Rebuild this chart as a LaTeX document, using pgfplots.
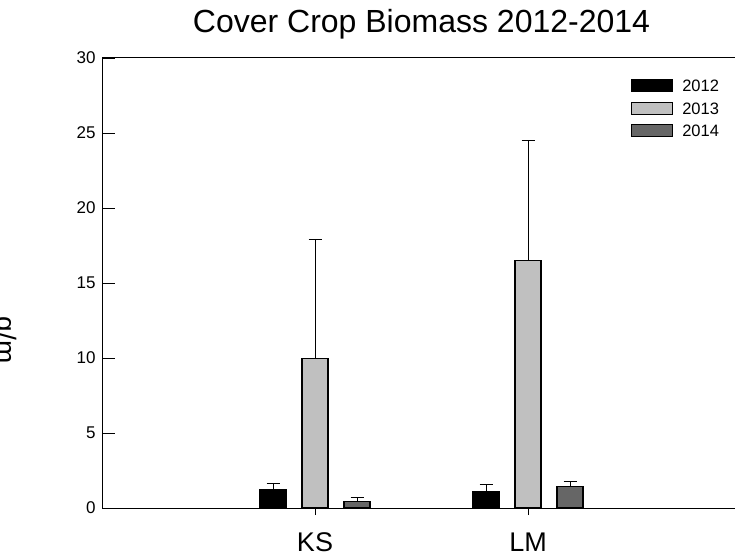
\documentclass[border=0pt]{standalone}
\usepackage{fontspec}
\setmainfont{Liberation Sans}
\usepackage{pgfplots}
\pgfplotsset{compat=1.18}

\definecolor{c2012}{RGB}{0,0,0}
\definecolor{c2013}{RGB}{192,192,192}
\definecolor{c2014}{RGB}{102,102,102}

\begin{document}
\begin{tikzpicture}
\useasboundingbox (-102pt,-51pt) rectangle (633pt,508pt);
\begin{axis}[
  at={(0pt,0pt)}, anchor=south west,
  scale only axis, width=639pt, height=450pt,
  xmin=0, xmax=3, ymin=0, ymax=30,
  ybar=16pt, bar width=26pt,
  xtick={1,2}, xticklabels={KS,LM},
  ytick={0,5,...,30},
  tick align=inside, major tick length=13pt,
  ytick pos=left, xtick pos=bottom,
  x tick style={yshift=-7pt},
  tick style={black, line width=0.8pt},
  axis line style={line width=1pt},
  /pgf/number format/assume math mode=true,
  x tick label style={font=\fontsize{27}{27}\selectfont, anchor=base, yshift=-43pt},
  y tick label style={font=\fontsize{17}{17}\selectfont, xshift=-3pt},
  title={Cover Crop Biomass 2012-2014},
  title style={font=\fontsize{32}{32}\selectfont, at={(0.5,1)}, anchor=base, yshift=19pt},
  legend style={draw=none, fill=none, font=\fontsize{16.5}{16.5}\selectfont,
    at={(axis cs:2.484,30)}, anchor=north west, yshift=-21pt,
    inner sep=0pt, row sep=9.5pt, column sep=0pt,
    nodes={inner sep=0pt, text height=11.5pt, text depth=0pt},
    cells={anchor=base west}},
  error bars/y dir=plus, error bars/y explicit,
  error bars/error bar style={line width=1pt, black},
  error bars/error mark options={rotate=90, mark size=6.5pt, line width=1pt, black},
]
\addplot[fill=c2012, draw=black, line width=1.1pt,
  legend image code/.code={\draw[fill=c2012, draw=black, line width=1pt] (0pt,0pt) rectangle (41pt,12pt);}]
  coordinates {(1,1.25) +- (0,0.37) (2,1.13) +- (0,0.42)};
\addlegendentry{\hspace{9pt}2012}
\addplot[fill=c2013, draw=black, line width=1.1pt,
  legend image code/.code={\draw[fill=c2013, draw=black, line width=1pt] (0pt,0pt) rectangle (41pt,12pt);}]
  coordinates {(1,9.95) +- (0,7.95) (2,16.5) +- (0,8.0)};
\addlegendentry{\hspace{9pt}2013}
\addplot[fill=c2014, draw=black, line width=1.1pt,
  legend image code/.code={\draw[fill=c2014, draw=black, line width=1pt] (0pt,0pt) rectangle (41pt,12pt);}]
  coordinates {(1,0.42) +- (0,0.31) (2,1.42) +- (0,0.33)};
\addlegendentry{\hspace{9pt}2014}
\end{axis}
\node[rotate=-90, anchor=north, inner sep=0pt, font=\fontsize{28}{28}\selectfont] at (-85pt,168pt) {g/m};
\end{tikzpicture}
\end{document}
